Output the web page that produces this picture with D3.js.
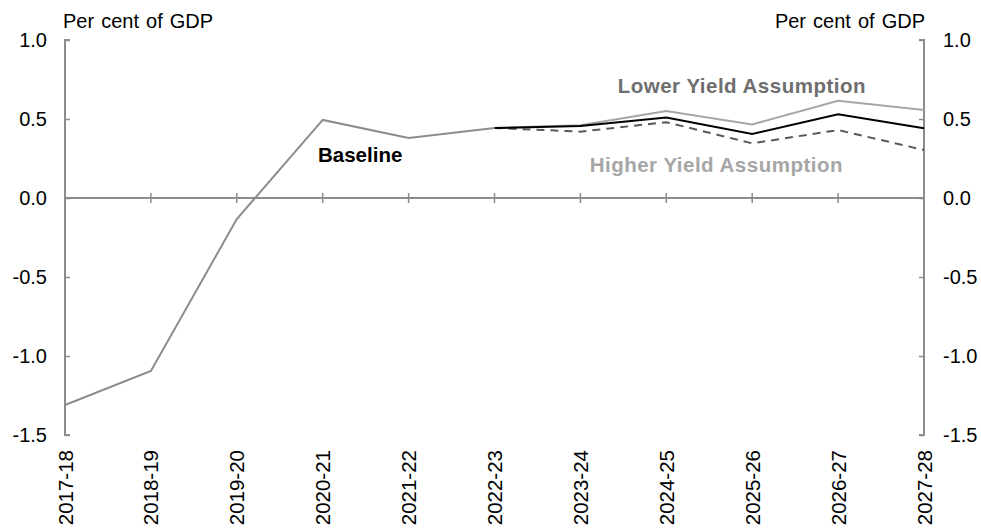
<!DOCTYPE html>
<html>
<head>
<meta charset="utf-8">
<script src="https://cdn.jsdelivr.net/npm/d3@7"></script>
<style>
  body { margin: 0; background: #fff; }
  svg { display: block; font-family: "Liberation Sans", Arial, sans-serif; }
</style>
</head>
<body>
<svg id="chart" width="981" height="530"></svg>
<script>
// Financial years on the horizontal axis
const years = ["2017-18", "2018-19", "2019-20", "2020-21", "2021-22", "2022-23",
               "2023-24", "2024-25", "2025-26", "2026-27", "2027-28"];

// Outcomes up to 2022-23 (shared by all scenarios)
const history = [-1.31, -1.095, -0.133, 0.494, 0.38, 0.443];

// Projections from 2022-23 onward
const projYears = ["2022-23", "2023-24", "2024-25", "2025-26", "2026-27", "2027-28"];
const baseline    = [0.443, 0.456, 0.51, 0.405, 0.53, 0.441];
const lowerYield  = [0.443, 0.46, 0.55, 0.466, 0.616, 0.557];
const higherYield = [0.443, 0.42, 0.48, 0.346, 0.43, 0.304];

const yTicks = [-1.5, -1.0, -0.5, 0.0, 0.5, 1.0];

const svg = d3.select("#chart");
const plotL = 65, plotR = 924, plotT = 40, plotB = 435;
const axisColor = "#8c8c8c";

const x = d3.scalePoint().domain(years).range([plotL, plotR]);
const y = d3.scaleLinear().domain([-1.5, 1.0]).range([plotB, plotT]);

// Zero line with category ticks crossing it
svg.append("line")
  .attr("x1", plotL).attr("x2", plotR)
  .attr("y1", y(0)).attr("y2", y(0))
  .attr("stroke", axisColor).attr("stroke-width", 2);
svg.append("g").selectAll("line").data(years).join("line")
  .attr("x1", d => x(d)).attr("x2", d => x(d))
  .attr("y1", y(0) - 5).attr("y2", y(0) + 5)
  .attr("stroke", axisColor).attr("stroke-width", 1.5);

// Left axis
const leftAxis = d3.axisRight(y).tickValues(yTicks).tickSize(5).tickFormat("");
const gl = svg.append("g").attr("transform", `translate(${plotL},0)`).call(leftAxis);
gl.select(".domain").attr("stroke", axisColor).attr("stroke-width", 2).attr("d", `M5,${plotT}H0V${plotB}H5`);
gl.selectAll(".tick line").attr("stroke", axisColor).attr("stroke-width", 1.5);

// Right axis
const rightAxis = d3.axisLeft(y).tickValues(yTicks).tickSize(5).tickFormat("");
const gr = svg.append("g").attr("transform", `translate(${plotR},0)`).call(rightAxis);
gr.select(".domain").attr("stroke", axisColor).attr("stroke-width", 2).attr("d", `M-5,${plotT}H0V${plotB}H-5`);
gr.selectAll(".tick line").attr("stroke", axisColor).attr("stroke-width", 1.5);

// Tick labels (plain hyphen for negatives)
const fmt = d => d.toFixed(1);
svg.append("g").selectAll("text").data(yTicks).join("text")
  .attr("x", 47).attr("y", d => y(d) + 7)
  .attr("text-anchor", "end").attr("font-size", 20).attr("fill", "#000")
  .text(d => fmt(d));
svg.append("g").selectAll("text").data(yTicks).join("text")
  .attr("x", 943).attr("y", d => y(d) + 7)
  .attr("text-anchor", "start").attr("font-size", 20).attr("fill", "#000")
  .text(d => fmt(d));

svg.append("g").selectAll("text").data(years).join("text")
  .attr("transform", d => `translate(${x(d) + 7.5},450) rotate(-90)`)
  .attr("text-anchor", "end").attr("font-size", 20.5).attr("fill", "#000")
  .text(d => d);

// Unit labels
svg.append("text").attr("x", 63).attr("y", 28).attr("font-size", 20)
  .attr("word-spacing", 1.5).text("Per cent of GDP");
svg.append("text").attr("x", 925).attr("y", 28).attr("font-size", 20)
  .attr("text-anchor", "end").attr("word-spacing", 1.5).text("Per cent of GDP");

// Series
const line = d3.line().x(d => x(d[0])).y(d => y(d[1]));
const pairs = vals => projYears.map((yr, i) => [yr, vals[i]]);

svg.append("path").datum(pairs(lowerYield)).attr("d", line)
  .attr("fill", "none").attr("stroke", "#a6a6a6").attr("stroke-width", 2);
svg.append("path").datum(pairs(higherYield)).attr("d", line)
  .attr("fill", "none").attr("stroke", "#595959").attr("stroke-width", 2)
  .attr("stroke-dasharray", "8,6");
svg.append("path").datum(pairs(baseline)).attr("d", line)
  .attr("fill", "none").attr("stroke", "#000").attr("stroke-width", 2);
svg.append("path").datum(years.slice(0, history.length).map((yr, i) => [yr, history[i]])).attr("d", line)
  .attr("fill", "none").attr("stroke", "#8c8c8c").attr("stroke-width", 2);

// Series labels
svg.append("text").attr("x", 866).attr("y", 93).attr("text-anchor", "end")
  .attr("font-size", 20.5).attr("font-weight", "bold").attr("fill", "#6e6e6e")
  .attr("letter-spacing", 0.5).text("Lower Yield Assumption");
svg.append("text").attr("x", 843).attr("y", 172).attr("text-anchor", "end")
  .attr("font-size", 20.5).attr("font-weight", "bold").attr("fill", "#a6a6a6")
  .attr("letter-spacing", 0.5).text("Higher Yield Assumption");
svg.append("text").attr("x", 318).attr("y", 162).attr("text-anchor", "start")
  .attr("font-size", 20.5).attr("font-weight", "bold").attr("fill", "#000")
  .text("Baseline");
</script>
</body>
</html>
